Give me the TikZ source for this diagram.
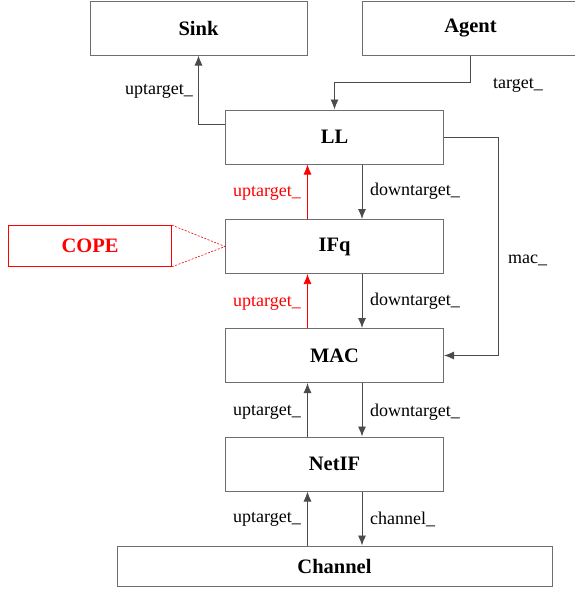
\documentclass[tikz,border=0pt]{standalone}
\usepackage{fontspec}
\setmainfont{Liberation Serif}
\usetikzlibrary{arrows,arrows.meta,calc}
\definecolor{boxgray}{RGB}{110,110,110}
\definecolor{linegray}{RGB}{75,75,75}
\definecolor{copered}{RGB}{255,0,0}

\begin{document}
\begin{tikzpicture}[x=1pt,y=-1pt,
  blk/.style={draw=boxgray,line width=1pt,fill=white,minimum width=218pt,minimum height=54pt,
    inner sep=0pt,font=\fontsize{20.5}{22}\selectfont\bfseries},
  cope/.style={blk,draw=copered,text=copered,line width=0.7pt,minimum width=163pt,minimum height=41pt},
  link/.style={draw=linegray,line width=0.9pt,-{Latex[length=10pt,width=8pt]}},
  redlink/.style={link,draw=copered,line width=0.7pt},
  copeline/.style={draw=copered,line width=0.6pt,dash pattern=on 2pt off 1.5pt},
  lbl/.style={inner sep=0pt,font=\fontsize{18}{20}\selectfont},
  redlbl/.style={lbl,text=copered}]
\useasboundingbox (0,0) rectangle (575,590);

\node[blk,minimum width=217pt] (sink) at (198.5,28) {Sink};
\node[blk,minimum width=217pt] (agent) at (470.5,28) {Agent};
\node[blk] (ll) at (334.5,137) {LL};
\node[blk] (ifq) at (334.5,246.5) {IFq};
\node[blk] (mac) at (334.5,355.5) {MAC};
\node[blk] (netif) at (334.5,464) {NetIF};
\node[blk,minimum width=435pt,minimum height=40pt] (channel) at (334.5,566) {Channel};
\node[cope] (cope) at (90,246) {COPE};

% connectors
\draw[link] ([yshift=13pt]ll.west) -| (sink.south);
\draw[link] (agent.south) -- ++(0,27) -| (ll.north);
\draw[link] (ll.east) -- ++(54,0) |- (mac.east);
\draw[redlink] ([xshift=-27pt]ifq.north) -- ([xshift=-27pt]ll.south);
\draw[link] ([xshift=27.5pt]ll.south) -- ([xshift=27.5pt]ifq.north);
\draw[redlink] ([xshift=-27pt]mac.north) -- ([xshift=-27pt]ifq.south);
\draw[link] ([xshift=27.5pt]ifq.south) -- ([xshift=27.5pt]mac.north);
\draw[link] ([xshift=-27pt]netif.north) -- ([xshift=-27pt]mac.south);
\draw[link] ([xshift=27.5pt]mac.south) -- ([xshift=27.5pt]netif.north);
\draw[link] ([xshift=-27pt]channel.north) -- ([xshift=-27pt]netif.south);
\draw[link] ([xshift=27.5pt]netif.south) -- ([xshift=27.5pt]channel.north);
\draw[copeline] (cope.north east) -- (ifq.west) -- (cope.south east);

% labels
\node[lbl,anchor=east] (upsink) at (193,91) {uptarget\_};
\node[lbl,anchor=west] (tgt) at (493,85) {target\_};
\node[lbl,anchor=west] (macl) at (508,260) {mac\_};
\node[redlbl,anchor=east] (upll) at (301,193) {uptarget\_};
\node[lbl,anchor=west] (downll) at (370,191) {downtarget\_};
\node[redlbl,anchor=east] (upifq) at (301,303) {uptarget\_};
\node[lbl,anchor=west] (downifq) at (370,301) {downtarget\_};
\node[lbl,anchor=east] (upmac) at (301,412) {uptarget\_};
\node[lbl,anchor=west] (downmac) at (370,412) {downtarget\_};
\node[lbl,anchor=east] (upnetif) at (301,519) {uptarget\_};
\node[lbl,anchor=west] (chan) at (370,519) {channel\_};

\end{tikzpicture}
\end{document}
